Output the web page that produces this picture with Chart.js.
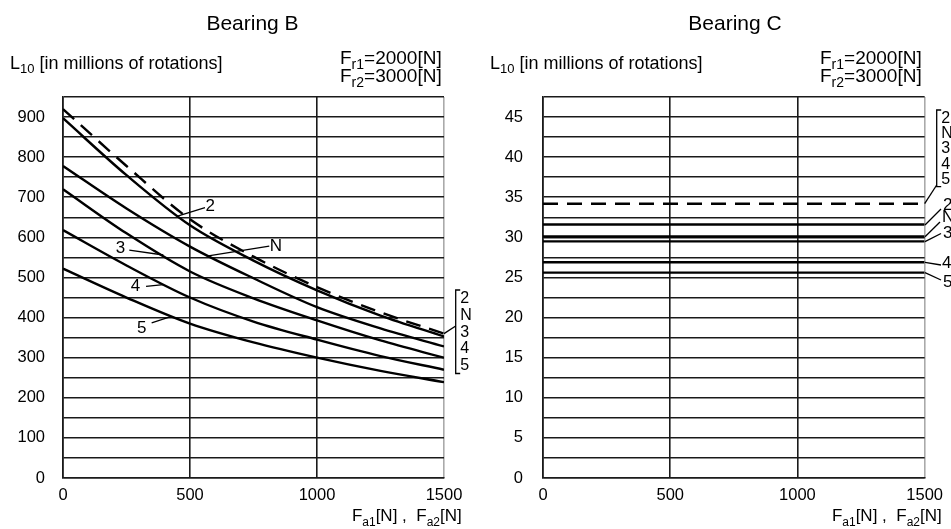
<!DOCTYPE html>
<html><head><meta charset="utf-8">
<script src="https://cdn.jsdelivr.net/npm/chart.js@4.4.1/dist/chart.umd.min.js"></script>
<style>
html,body{margin:0;padding:0;background:#fff;}
#wrap{position:relative;width:951px;height:529px;overflow:hidden;}
canvas{position:absolute;top:0;}
#cB{left:0;} #cC{left:475px;}
</style></head><body>
<div id="wrap"><canvas id="cB" width="475" height="529"></canvas><canvas id="cC" width="476" height="529"></canvas></div>
<script>
// ---- data ----
const forceB = [0, 250, 500, 750, 1000, 1250, 1500];
const bearingB_dashed = [920, 778, 645, 552, 476, 413, 360];
const bearingB_2 = [897, 755, 630, 542, 468, 405, 353];
const bearingB_N = [778, 672, 577, 498, 426, 373, 328];
const bearingB_3 = [720, 610, 515, 448, 393, 343, 300];
const bearingB_4 = [618, 530, 450, 390, 345, 304, 270];
const bearingB_5 = [522, 450, 385, 338, 300, 267, 239];

const forceC = [0, 1500];
const bearingC_dashed = [34.2, 34.2];
const bearingC_2 = [31.6, 31.6];
const bearingC_N = [30.1, 30.1];
const bearingC_3 = [29.5, 29.5];
const bearingC_4 = [26.9, 26.9];
const bearingC_5 = [25.6, 25.6];

const seriesLabels = ['2', 'N', '3', '4', '5'];
const xTickStep = 500, xMax = 1500;
const yMaxB = 950, yGridB = 50, yLabelB = 100;
const yMaxC = 47.5, yGridC = 2.5, yLabelC = 5;

const FONT = '"Liberation Sans", Arial, sans-serif';

function pts(xs, ys){ return xs.map((x,i)=>({x:x, y:ys[i]})); }

function rich(ctx, parts, x, y, align, size){
  const subSize = Math.round(size*0.72);
  let w = 0;
  parts.forEach(p=>{ ctx.font = (p[1]?subSize:size)+'px '+FONT; w += ctx.measureText(p[0]).width; });
  let cx = align==='right' ? x-w : (align==='center' ? x-w/2 : x);
  ctx.textAlign='left'; ctx.textBaseline='alphabetic';
  parts.forEach(p=>{
    ctx.font = (p[1]?subSize:size)+'px '+FONT;
    ctx.fillText(p[0], cx, p[1] ? y+size*0.27 : y);
    cx += ctx.measureText(p[0]).width;
  });
}
function line(ctx, a, b, w){ ctx.beginPath(); ctx.moveTo(a[0],a[1]); ctx.lineTo(b[0],b[1]); ctx.lineWidth=w||1.3; ctx.stroke(); }

const decoPlugin = {
  id:'deco',
  afterDraw(chart){
    const o = chart.options.plugins.deco; if(!o) return;
    const ctx = chart.ctx; ctx.save();
    ctx.fillStyle='#000'; ctx.strokeStyle='#000';
    const xs = chart.scales.x, ys = chart.scales.y;
    // title
    ctx.font = '21px '+FONT; ctx.textAlign='center'; ctx.textBaseline='alphabetic';
    ctx.fillText(o.title, o.titleX, 29.5);
    rich(ctx, [['L',0],['10',1],[' [in millions of rotations]',0]], o.l10X, 68.5, 'left', 18);
    rich(ctx, [['F',0],['r1',1],['=2000[N]',0]], o.frX, 63.5, 'right', 19);
    rich(ctx, [['F',0],['r2',1],['=3000[N]',0]], o.frX, 82, 'right', 19);
    rich(ctx, [['F',0],['a1',1],['[N] ,  F',0],['a2',1],['[N]',0]], o.faX, 521, 'right', 17);
    // bracket
    const b = o.bracket;
    ctx.lineWidth=1.3;
    ctx.beginPath(); ctx.moveTo(b.x+4.5,b.top); ctx.lineTo(b.x,b.top); ctx.lineTo(b.x,b.bot); ctx.lineTo(b.x+4.5,b.bot); ctx.stroke();
    line(ctx, [xs.getPixelForValue(b.fromX), ys.getPixelForValue(b.fromY)], [b.x, b.joinY], 1.3);
    ctx.font='16px '+FONT; ctx.textAlign='left'; ctx.textBaseline='middle';
    const step=(b.bot-b.top)/5;
    seriesLabels.forEach((s,i)=>ctx.fillText(s, b.x+4.5, b.top+step*(i+0.5)+0.5));
    // series labels with leaders
    ctx.font='17px '+FONT;
    o.labels.forEach(L=>{
      const p = L.data ? [xs.getPixelForValue(L.pos[0]), ys.getPixelForValue(L.pos[1])] : L.pos;
      const a = L.data ? [xs.getPixelForValue(L.a[0]), ys.getPixelForValue(L.a[1])] : L.a;
      const c = L.data ? [xs.getPixelForValue(L.b[0]), ys.getPixelForValue(L.b[1])] : L.b;
      ctx.textAlign = L.align || 'center'; ctx.textBaseline='middle';
      ctx.fillText(L.t, p[0], p[1]);
      line(ctx, a, c, 1.3);
    });
    ctx.restore();
  }
};

function makeScales(yMax, yGrid, yLabel, yWidth, yPad){
  const dark = '#1a1a1a';
  return {
    x: { type:'linear', min:0, max:xMax,
      ticks:{ stepSize:xTickStep, color:'#000', font:{family:FONT,size:16.5}, padding:8, autoSkip:false, maxRotation:0,
        callback:(v)=> String(v) },
      grid:{ drawTicks:false, lineWidth:1.6, color:(c)=> c.tick && c.tick.value===xMax ? '#aaaaaa' : dark },
      border:{ color:dark, width:1.6 },
      afterFit(s){ s.height = 51; }
    },
    y: { type:'linear', min:0, max:yMax,
      ticks:{ stepSize:yGrid, color:'#000', font:{family:FONT,size:16.5}, padding:yPad, autoSkip:false,
        callback:(v)=> (Math.abs(v/yLabel - Math.round(v/yLabel))<1e-6) ? String(v) : '' },
      grid:{ drawTicks:false, lineWidth:1.6, color:dark },
      border:{ color:dark, width:1.6 },
      afterFit(s){ s.width = yWidth; }
    }
  };
}

function ds(xs, ys, dashed){
  return { data:pts(xs, ys), borderColor:'#000', borderWidth:2.4, pointRadius:0,
    borderDash: dashed ? [15, 9] : [], cubicInterpolationMode:'monotone', fill:false };
}

new Chart(document.getElementById('cB'), {
  type:'line',
  data:{ datasets:[
    ds(forceB, bearingB_2), ds(forceB, bearingB_N), ds(forceB, bearingB_3),
    ds(forceB, bearingB_4), ds(forceB, bearingB_5), ds(forceB, bearingB_dashed, true)
  ]},
  options:{
    responsive:false, animation:false, devicePixelRatio:1,
    layout:{ padding:{ top:97, right:31, left:0, bottom:0 } },
    plugins:{ legend:{display:false}, tooltip:{enabled:false},
      deco:{ title:'Bearing B', titleX:252.5, l10X:10, frX:441.7, faX:461.7,
        bracket:{ x:455.7, top:290, bot:373.5, fromX:1500, fromY:360, joinY:326 },
        labels:[
          {t:'2', data:true, pos:[580,678], a:[451,653], b:[559,674]},
          {t:'N', data:true, pos:[838,577], a:[566,553], b:[812,578]},
          {t:'3', data:true, pos:[226,572], a:[261,568], b:[395,556]},
          {t:'4', data:true, pos:[285,478], a:[327,478], b:[395,482]},
          {t:'5', data:true, pos:[310,374], a:[349,387], b:[421,402]}
        ] } },
    scales: makeScales(yMaxB, yGridB, yLabelB, 63, 18)
  },
  plugins:[decoPlugin]
});

new Chart(document.getElementById('cC'), {
  type:'line',
  data:{ datasets:[
    ds(forceC, bearingC_2), ds(forceC, bearingC_N), ds(forceC, bearingC_3),
    ds(forceC, bearingC_4), ds(forceC, bearingC_5), ds(forceC, bearingC_dashed, true)
  ]},
  options:{
    responsive:false, animation:false, devicePixelRatio:1,
    layout:{ padding:{ top:97, right:26, left:0, bottom:0 } },
    plugins:{ legend:{display:false}, tooltip:{enabled:false},
      deco:{ title:'Bearing C', titleX:260, l10X:15, frX:446.7, faX:466.7,
        bracket:{ x:461.7, top:110, bot:186.7, fromX:1500, fromY:34.2, joinY:185 },
        labels:[
          {t:'2', pos:[468,205], a:[450,225], b:[466,209], align:'left'},
          {t:'N', pos:[467,217.5], a:[450,236.7], b:[465,222], align:'left'},
          {t:'3', pos:[468,233.5], a:[450,241.7], b:[466,233.5], align:'left'},
          {t:'4', pos:[467,263], a:[450,262.3], b:[466,265], align:'left'},
          {t:'5', pos:[468,282], a:[450,272.7], b:[466,280], align:'left'}
        ] } },
    scales: makeScales(yMaxC, yGridC, yLabelC, 68, 20)
  },
  plugins:[decoPlugin]
});
</script>
</body></html>
